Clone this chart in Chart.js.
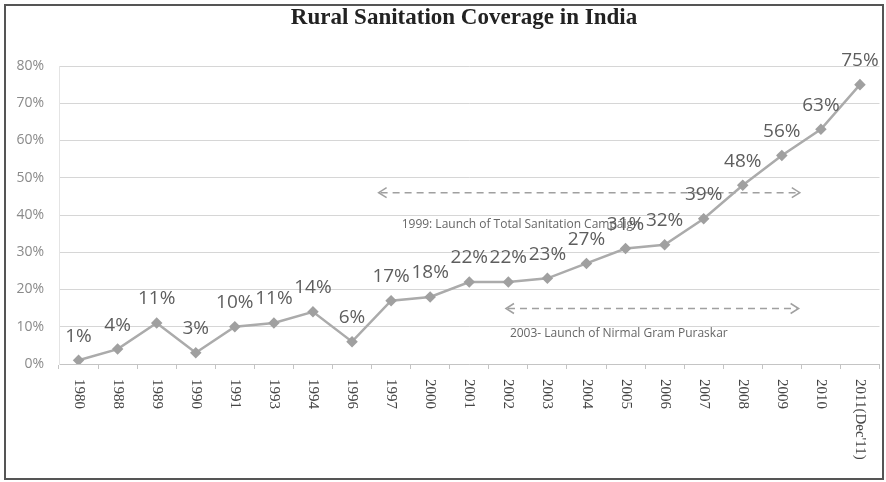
<!DOCTYPE html>
<html>
<head>
<meta charset="utf-8">
<title>Rural Sanitation Coverage in India</title>
<script src="https://cdn.jsdelivr.net/npm/chart.js@4.4.1/dist/chart.umd.min.js"></script>
<style>
  html, body { margin: 0; padding: 0; background: #fff; }
  canvas { display: block; }
</style>
</head>
<body>
<canvas id="coverageChart" width="886" height="482"></canvas>
<script>
// coverage by year, in percent
const years = ['1980', '1988', '1989', '1990', '1991', '1993', '1994', '1996', '1997', '2000',
    '2001', '2002', '2003', '2004', '2005', '2006', '2007', '2008', '2009', '2010', "2011(Dec'11)"];
const coverage = [1, 4, 11, 3, 10, 11, 14, 6, 17, 18, 22, 22, 23, 27, 31, 32, 39, 48, 56, 63, 75];
const yTicks = [0, 10, 20, 30, 40, 50, 60, 70, 80];

const chartTitle = 'Rural Sanitation Coverage in India';

// dashed arrows for the two programmes (x in category index, y in percent)
const milestones = [
    { text: '1999: Launch of Total Sanitation Campaign', from: 7.68, to: 18.46, arrowY: 46, textX: 8.27, textY: 37.3 },
    { text: '2003- Launch of Nirmal Gram Puraskar', from: 10.94, to: 18.43, arrowY: 14.9, textX: 11.04, textY: 8.2 }
];

function indexToPixel(scale, idx) {
    const p0 = scale.getPixelForValue(0);
    const step = scale.getPixelForValue(1) - p0;
    return p0 + idx * step;
}

function chevron(ctx, x, y, dir) {
    ctx.beginPath();
    ctx.moveTo(x - dir * 8, y - 5);
    ctx.lineTo(x, y);
    ctx.lineTo(x - dir * 8, y + 5);
    ctx.stroke();
}

const decorations = {
    id: 'decorations',
    beforeDraw(chart) {
        const ctx = chart.ctx;
        ctx.save();
        ctx.fillStyle = '#fff';
        ctx.fillRect(0, 0, chart.width, chart.height);
        ctx.restore();
    },
    beforeDatasetsDraw(chart) {
        const ctx = chart.ctx;
        const x = chart.scales.x;
        const y = chart.scales.y;
        ctx.save();

        // milestone arrows and captions
        milestones.forEach(m => {
            const x1 = indexToPixel(x, m.from);
            const x2 = indexToPixel(x, m.to);
            const ay = y.getPixelForValue(m.arrowY);
            ctx.strokeStyle = '#a0a0a0';
            ctx.lineWidth = 1.5;
            ctx.setLineDash([7, 5]);
            ctx.beginPath();
            ctx.moveTo(x1 + 2, ay);
            ctx.lineTo(x2 - 2, ay);
            ctx.stroke();
            ctx.setLineDash([]);
            chevron(ctx, x1, ay, -1);
            chevron(ctx, x2, ay, 1);

            ctx.fillStyle = '#666';
            ctx.font = '12px "Open Sans"';
            ctx.textAlign = 'left';
            ctx.textBaseline = 'middle';
            ctx.fillText(m.text, indexToPixel(x, m.textX), y.getPixelForValue(m.textY));
        });
        ctx.restore();
    },
    afterDraw(chart) {
        const ctx = chart.ctx;
        const x = chart.scales.x;
        const y = chart.scales.y;
        ctx.save();

        // value labels above each point
        const meta = chart.getDatasetMeta(0);
        ctx.fillStyle = '#5e5e5e';
        ctx.font = '19px "Open Sans"';
        ctx.textAlign = 'center';
        ctx.textBaseline = 'middle';
        meta.data.forEach((pt, i) => {
            ctx.fillText(coverage[i] + '%', pt.x, pt.y - 24);
        });

        // category labels, turned clockwise
        ctx.fillStyle = '#444';
        ctx.font = '15px "Liberation Serif"';
        ctx.textAlign = 'left';
        ctx.textBaseline = 'middle';
        years.forEach((label, i) => {
            ctx.save();
            ctx.translate(x.getPixelForValue(i), y.bottom + 15);
            ctx.rotate(Math.PI / 2);
            ctx.fillText(label, 0, 0);
            ctx.restore();
        });

        // title
        ctx.fillStyle = '#222';
        ctx.font = 'bold 23px "Liberation Serif"';
        ctx.textAlign = 'center';
        ctx.textBaseline = 'alphabetic';
        ctx.fillText(chartTitle, 464, 24);

        // frame
        ctx.strokeStyle = '#555';
        ctx.lineWidth = 2;
        ctx.strokeRect(5, 5, 878, 474);
        ctx.restore();
    }
};

new Chart(document.getElementById('coverageChart'), {
    type: 'line',
    data: {
        labels: years,
        datasets: [{
            label: 'Coverage',
            data: coverage,
            borderColor: '#ababab',
            borderWidth: 2.5,
            pointStyle: 'rectRot',
            pointRadius: 4,
            pointBackgroundColor: '#a0a0a0',
            pointBorderColor: '#a0a0a0',
            tension: 0
        }]
    },
    options: {
        responsive: false,
        animation: false,
        layout: {
            padding: { top: 66, right: 3, left: 0, bottom: 0 }
        },
        plugins: {
            legend: { display: false },
            title: { display: false },
            tooltip: { enabled: false }
        },
        scales: {
            x: {
                type: 'category',
                offset: true,
                grid: {
                    display: true,
                    drawOnChartArea: false,
                    drawTicks: true,
                    tickLength: 5,
                    offset: true,
                    color: '#c4c4c4'
                },
                border: { display: true, color: '#c4c4c4' },
                ticks: { display: false },
                afterFit(scale) { scale.height = 118; }
            },
            y: {
                min: 0,
                max: 80,
                afterBuildTicks(scale) {
                    scale.ticks = yTicks.map(v => ({ value: v }));
                },
                grid: {
                    color: '#d6d6d6',
                    drawTicks: false
                },
                border: { display: true, color: '#e4e4e4' },
                ticks: {
                    color: '#8a8a8a',
                    font: { family: 'Open Sans', size: 14 },
                    padding: 15,
                    callback: v => v + '%'
                },
                afterFit(scale) { scale.width = 59; }
            }
        }
    },
    plugins: [decorations]
});
</script>
</body>
</html>
